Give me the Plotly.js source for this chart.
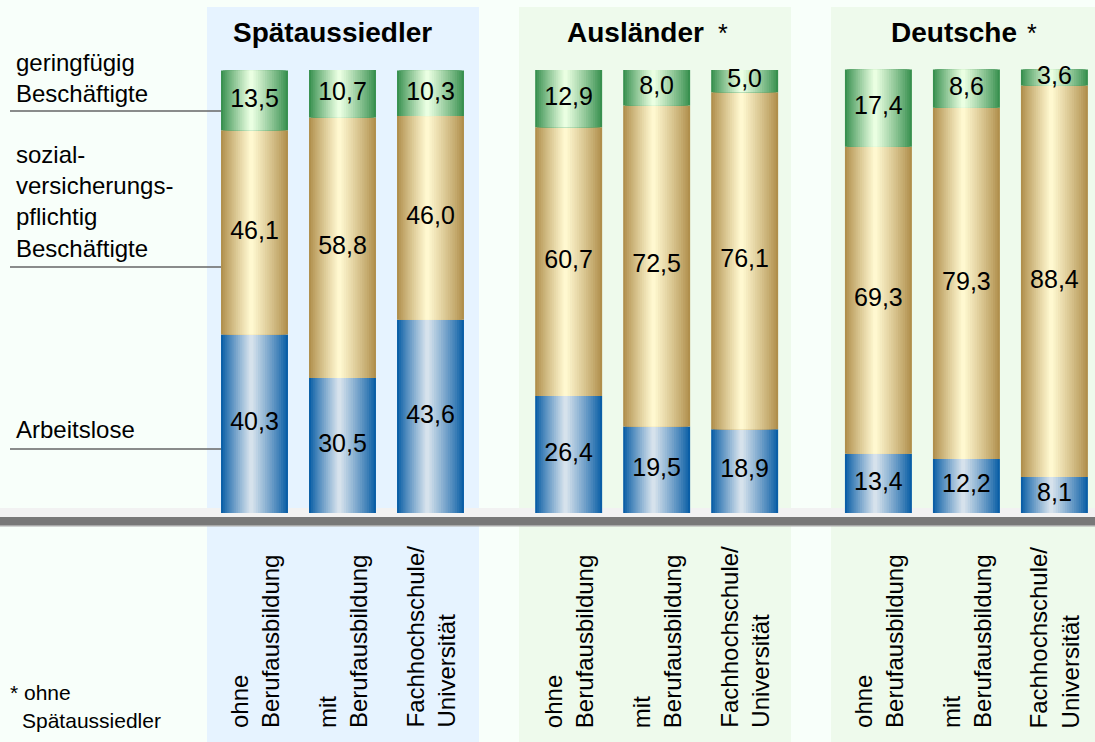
<!DOCTYPE html>
<html>
<head>
<meta charset="utf-8">
<script src="https://cdn.plot.ly/plotly-3.0.1.min.js"></script>
<style>html,body{margin:0;padding:0;background:#f8fffa;}#chart{width:1095px;height:742px;}</style>
</head>
<body>
<div id="chart"></div>
<script>
// ---- data ----
const groups = ['Spätaussiedler', 'Ausländer', 'Deutsche'];
const groupStar = [false, true, true];
const categories = ['ohne<br>Berufausbildung', 'mit<br>Berufausbildung', 'Fachhochschule/<br>Universität'];
const barGroup = [0, 0, 0, 1, 1, 1, 2, 2, 2];
const barSlot = [0, 1, 2, 0, 1, 2, 0, 1, 2];
const arbeitslose = [40.3, 30.5, 43.6, 26.4, 19.5, 18.9, 13.4, 12.2, 8.1];
const sozialversichert = [46.1, 58.8, 46.0, 60.7, 72.5, 76.1, 69.3, 79.3, 88.4];
const geringfuegig = [13.5, 10.7, 10.3, 12.9, 8.0, 5.0, 17.4, 8.6, 3.6];
const seriesLabels = ['geringfügig<br>Beschäftigte', 'sozial-<br>versicherungs-<br>pflichtig<br>Beschäftigte', 'Arbeitslose'];
const footnote = ['* ohne', 'Spätaussiedler'];

// ---- layout helpers ----
const W = 1095, H = 742;
const groupStart = [0, 3.57, 7.09];
const xs = barGroup.map((g, i) => groupStart[g] + barSlot[i]);
const BW = 0.761;
const FONT = 'Liberation Sans, Arial, Helvetica, sans-serif';
const px = v => v / W;
const py = v => 1 - v / H;

function hex2rgb(h) { return [1, 3, 5].map(i => parseInt(h.substr(i, 2), 16)); }
function mix(a, b, t) {
  const A = hex2rgb(a), B = hex2rgb(b);
  return 'rgb(' + A.map((v, i) => Math.round(v + (B[i] - v) * t)).join(',') + ')';
}

const series = [
  {vals: arbeitslose, base: arbeitslose.map(() => 0), edge: '#0a5ea6', center: '#d6e2ec'},
  {vals: sozialversichert, base: arbeitslose.slice(), edge: '#b08f4c', center: '#fff8d0'},
  {vals: geringfuegig, base: arbeitslose.map((v, i) => v + sozialversichert[i]), edge: '#38904f', center: '#eaffe2'}
];

const N = 16;
const traces = [];
series.forEach(s => {
  for (let k = 0; k < N; k++) {
    const t = k / N;
    const lf = -0.5 + t * 0.45;
    const rf = 0.5 - t * 0.55;
    const ct = Math.pow(k / (N - 1), 0.9);
    traces.push({
      type: 'bar', x: xs, y: s.vals, base: s.base,
      width: (rf - lf) * BW, offset: lf * BW,
      marker: {color: mix(s.edge, s.center, ct), line: {width: 0}},
      hoverinfo: 'skip', showlegend: false
    });
  }
});

// value labels
const fmt = v => v.toFixed(1).replace('.', ',');
const lx = [], ly = [], lt = [];
series.forEach(s => {
  s.vals.forEach((v, i) => { lx.push(xs[i]); ly.push(s.base[i] + v / 2); lt.push(fmt(v)); });
});
traces.push({
  type: 'scatter', mode: 'text', x: lx, y: ly, text: lt,
  textposition: 'middle center',
  textfont: {family: FONT, size: 25, color: '#000'},
  hoverinfo: 'skip', showlegend: false
});

// ---- shapes ----
const shapes = [
  {type: 'rect', xref: 'paper', yref: 'paper', x0: px(207), x1: px(479), y0: py(742), y1: py(7), fillcolor: '#e6f3ff', line: {width: 0}, layer: 'below'},
  {type: 'rect', xref: 'paper', yref: 'paper', x0: px(519), x1: px(791), y0: py(742), y1: py(7), fillcolor: '#eefaec', line: {width: 0}, layer: 'below'},
  {type: 'rect', xref: 'paper', yref: 'paper', x0: px(831), x1: px(1095), y0: py(742), y1: py(7), fillcolor: '#eefaec', line: {width: 0}, layer: 'below'},
  {type: 'rect', xref: 'paper', yref: 'paper', x0: 0, x1: 1, y0: py(517), y1: py(508), fillcolor: '#f2f2f2', line: {width: 0}, layer: 'below'},
  {type: 'rect', xref: 'paper', yref: 'paper', x0: 0, x1: 1, y0: py(525), y1: py(517), fillcolor: '#787878', line: {width: 0}, layer: 'below'},
  {type: 'rect', xref: 'paper', yref: 'paper', x0: 0, x1: 1, y0: py(526.5), y1: py(525), fillcolor: '#a8a8a8', line: {width: 0}, layer: 'below'}
];
[111, 267, 449].forEach(y => shapes.push({
  type: 'line', xref: 'paper', yref: 'paper', x0: px(10), x1: px(221), y0: py(y), y1: py(y),
  line: {color: '#666', width: 1.5}, layer: 'below'
}));

// ---- annotations ----
const annotations = [];
const titleX = [332, 636, 954];
const starX = [null, 723, 1032];
groups.forEach((g, i) => {
  annotations.push({xref: 'paper', yref: 'paper', x: px(titleX[i]), y: py(33), xanchor: 'center', yanchor: 'middle',
    text: '<b>' + g + '</b>', showarrow: false, font: {family: FONT, size: 28, color: '#000'}});
  if (groupStar[i]) annotations.push({xref: 'paper', yref: 'paper', x: px(starX[i]), y: py(33), xanchor: 'center', yanchor: 'middle',
    text: '*', showarrow: false, font: {family: FONT, size: 25, color: '#000'}});
});
const labelY = [78, 201, 429];
seriesLabels.forEach((t, i) => annotations.push({
  xref: 'paper', yref: 'paper', x: px(14), y: py(labelY[i]), xanchor: 'left', yanchor: 'middle', align: 'left',
  text: t, showarrow: false, font: {family: FONT, size: 24, color: '#000'}
}));
xs.forEach((x, i) => annotations.push({
  xref: 'x', yref: 'paper', x: x, y: py(730), xanchor: 'center', yanchor: 'bottom', align: 'left',
  textangle: -90, text: categories[barSlot[i]], showarrow: false, font: {family: FONT, size: 24, color: '#000'}
}));
annotations.push({xref: 'paper', yref: 'paper', x: px(8), y: py(692), xanchor: 'left', yanchor: 'middle',
  text: footnote[0], showarrow: false, font: {family: FONT, size: 21, color: '#000'}});
annotations.push({xref: 'paper', yref: 'paper', x: px(20), y: py(720), xanchor: 'left', yanchor: 'middle',
  text: footnote[1], showarrow: false, font: {family: FONT, size: 21, color: '#000'}});

const PXU = 88, PYU = 4.43;
const layout = {
  width: W, height: H,
  margin: {l: 0, r: 0, t: 0, b: 0, pad: 0},
  paper_bgcolor: '#f8fffa', plot_bgcolor: 'rgba(0,0,0,0)',
  barmode: 'overlay', showlegend: false,
  xaxis: {range: [-254.5 / PXU, (W - 254.5) / PXU], visible: false, fixedrange: true},
  yaxis: {range: [-(H - 513) / PYU, 513 / PYU], visible: false, fixedrange: true},
  shapes: shapes, annotations: annotations
};
Plotly.newPlot('chart', traces, layout, {staticPlot: true, displayModeBar: false});
</script>
</body>
</html>
